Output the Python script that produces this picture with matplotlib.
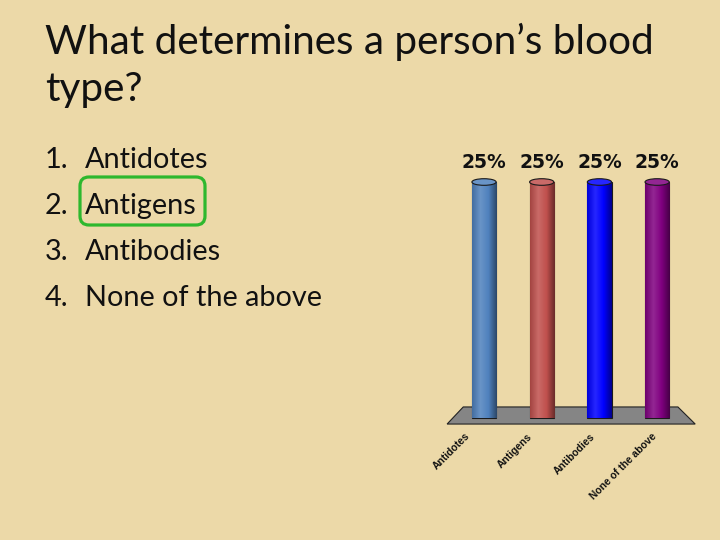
import matplotlib.pyplot as plt
import matplotlib.transforms as mtransforms
import numpy as np
from matplotlib.patches import Polygon, FancyBboxPatch, Ellipse
from matplotlib.colors import LinearSegmentedColormap, to_rgb

title_lines = ['What determines a person\u2019s blood', 'type?']
numbers = ['1.', '2.', '3.', '4.']
options = ['Antidotes', 'Antigens', 'Antibodies', 'None of the above']
percent = [25, 25, 25, 25]
bar_colors = ['#4F81BD', '#C0504D', '#0000FF', '#800080']
correct = 1

slide_font = ['Lato', 'DejaVu Sans']

fig = plt.figure(figsize=(7.2, 5.4), dpi=100)
fig.patch.set_facecolor('#ECD9A8')

# slide text
for i, line in enumerate(title_lines):
    fig.text(45 / 720, 1 - (54 + 47 * i) / 540, line, fontsize=29.2, family=slide_font,
             va='baseline', ha='left', color='#111111')
for i, (n, opt) in enumerate(zip(numbers, options)):
    yb = 1 - (168 + 46 * i) / 540
    fig.text(45 / 720, yb, n, fontsize=20.8, family=slide_font, va='baseline', color='#111111')
    fig.text(85 / 720, yb, opt, fontsize=20.8, family=slide_font, va='baseline', color='#111111')

# green box round the right answer
box_y = 540 - (225 + 46 * (correct - 1))
fig.patches.append(FancyBboxPatch((80, box_y), 125, 48, boxstyle='round,pad=0,rounding_size=9',
                                  transform=mtransforms.IdentityTransform(), fill=False,
                                  edgecolor='#2EB82E', linewidth=2.3, figure=fig))

# bar chart
ax = fig.add_axes([440 / 720, 100 / 540, 260 / 720, 300 / 540])
ax.axis('off')
ax.patch.set_alpha(0)

x = np.arange(len(options))
w = 0.42

floor = Polygon([(-0.64, -0.64), (3.66, -0.64), (3.36, 1.17), (-0.36, 1.17)],
                closed=True, facecolor='#858585', edgecolor='#222222', linewidth=0.8, zorder=1)
ax.add_patch(floor)

bars = ax.bar(x, percent, width=w, color=bar_colors, edgecolor='#1a1a1a', linewidth=0.8, zorder=2)
for b, c, xi, v in zip(bars, bar_colors, x, percent):
    base = np.array(to_rgb(c))
    light = base + (1 - base) * 0.15
    dark = base * 0.55
    cmap = LinearSegmentedColormap.from_list('cyl', [base * 0.85, light, base, dark])
    grad = np.linspace(0, 1, 64).reshape(1, -1)
    im = ax.imshow(grad, extent=[xi - w / 2, xi + w / 2, 0, v], aspect='auto', cmap=cmap, zorder=2.5)
    im.set_clip_path(b)
    ax.add_patch(Ellipse((xi, v), w, 0.7, facecolor=light, edgecolor='#1a1a1a', linewidth=0.8, zorder=3))
    ax.text(xi, v + 2.1, f'{v}%', ha='center', va='center', fontsize=13.5, fontweight='bold',
            color='#111111')

for xi, lab in zip(x, options):
    ax.text(xi - 0.33 + 0.08 * xi, -1.4, lab, rotation=45, rotation_mode='anchor', ha='right',
            va='top', fontsize=7.4, fontweight='bold', family='Liberation Sans', color='#111111')

ax.set_xlim(-0.763, 3.743)
ax.set_ylim(-2.33, 29.45)

fig.savefig('out.png', dpi=100, facecolor=fig.get_facecolor())
